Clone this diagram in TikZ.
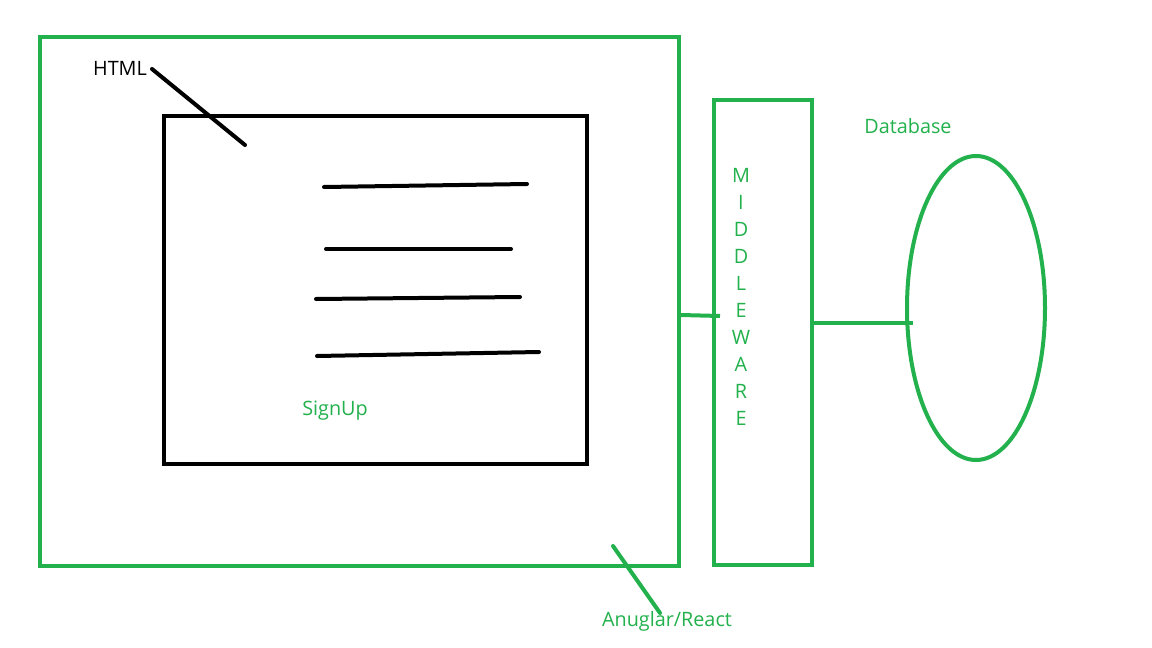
\documentclass[tikz,border=0pt]{standalone}
\usepackage{fontspec}
\setmainfont{Open Sans}
\usetikzlibrary{shapes.geometric}
\definecolor{pgreen}{HTML}{22B14C}
\begin{document}
\begin{tikzpicture}[x=1pt,y=-1pt,
  gbox/.style={draw=pgreen,line width=4pt,inner sep=0pt},
  kbox/.style={draw=black,line width=4pt,inner sep=0pt},
  gline/.style={draw=pgreen,line width=4pt,line cap=round},
  kline/.style={draw=black,line width=4pt,line cap=round},
  glabel/.style={text=pgreen,font=\fontsize{19.8}{22}\selectfont,inner sep=0pt},
  klabel/.style={text=black,font=\fontsize{19.8}{22}\selectfont,inner sep=0pt},
  letter/.style={text=pgreen,font=\fontsize{19.8}{22}\selectfont,inner sep=0pt}]
\useasboundingbox[fill=white] (0,0) rectangle (1152,648);
% outer Angular/React box
\node[gbox,minimum width=639pt,minimum height=529pt] (outer) at (359.5,301.5) {};
% inner HTML box
\node[kbox,minimum width=423pt,minimum height=348pt] (inner) at (375.5,290) {};
% middleware box
\node[gbox,minimum width=98pt,minimum height=465pt] (mw) at (763,332.5) {};
% database ellipse
\node[ellipse,draw=pgreen,line width=4pt,minimum width=138pt,minimum height=304pt,inner sep=0pt] (db) at (976,308) {};
% labels
\node[klabel] (html) at (120,68.5) {HTML};
\node[glabel] (signup) at (335,410.5) {SignUp};
\node[glabel] (dblabel) at (908,126) {Database};
\node[glabel] (ang) at (667,621.5) {Anuglar/React};
% MIDDLEWARE letters
\foreach \l [count=\i] in {M,I,D,D,L,E,W,A,R,E}{
  \node[letter] (mw\i) at (741,148.5+27*\i) {\l};
}
% form lines
\coordinate (l1a) at (324,187); \coordinate (l1b) at (527,184);
\coordinate (l2a) at (326,249); \coordinate (l2b) at (511,249);
\coordinate (l3a) at (316,299); \coordinate (l3b) at (520,297);
\coordinate (l4a) at (317,356); \coordinate (l4b) at (539,352);
\draw[kline] (l1a) -- (l1b);
\draw[kline] (l2a) -- (l2b);
\draw[kline] (l3a) -- (l3b);
\draw[kline] (l4a) -- (l4b);
% pointers
\coordinate (htmlstart) at (152,69);
\coordinate (htmlend) at (245,145);
\draw[kline] (htmlstart) -- (htmlend);
\coordinate (angtop) at (613,546);
\coordinate (angbot) at (660,613);
\draw[gline] (angtop) -- (angbot);
% connectors
\coordinate (c1) at (720,316);
\draw[gline,line cap=butt] (outer.east |- c1) ++(0,-1) -- (c1);
\coordinate (c2) at (913,323);
\draw[gline,line cap=butt] (mw.east |- c2) -- (c2);
\end{tikzpicture}
\end{document}
